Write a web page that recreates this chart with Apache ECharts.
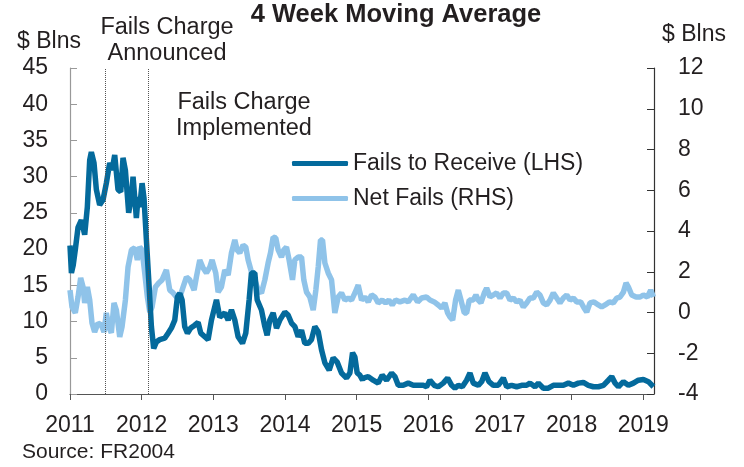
<!DOCTYPE html>
<html>
<head>
<meta charset="utf-8">
<script src="https://cdn.jsdelivr.net/npm/echarts@6/dist/echarts.min.js"></script>
<style>
  html, body { margin: 0; padding: 0; background: #fff; }
  #chart { width: 744px; height: 467px; }
</style>
</head>
<body>
<div id="chart"></div>
<script>
// year ticks on the x axis
const years = [2011, 2012, 2013, 2014, 2015, 2016, 2017, 2018, 2019]

// Fails to Receive (LHS, $ Blns)
const failsDates = [2011.0, 2011.02, 2011.045, 2011.075, 2011.112, 2011.158, 2011.205, 2011.242, 2011.275, 2011.298, 2011.335, 2011.368,
  2011.414, 2011.461, 2011.507, 2011.554, 2011.587, 2011.624, 2011.67, 2011.708, 2011.74, 2011.773,
  2011.819, 2011.857, 2011.88, 2011.926, 2011.95, 2011.973, 2012.006, 2012.033, 2012.066, 2012.099,
  2012.136, 2012.168, 2012.206, 2012.252, 2012.322, 2012.369, 2012.415, 2012.462, 2012.499, 2012.532,
  2012.564, 2012.601, 2012.639, 2012.685, 2012.741, 2012.788, 2012.825, 2012.881, 2012.927, 2012.974,
  2013.044, 2013.09, 2013.16, 2013.207, 2013.253, 2013.3, 2013.346, 2013.407, 2013.453, 2013.5,
  2013.532, 2013.579, 2013.612, 2013.672, 2013.719, 2013.751, 2013.788, 2013.835, 2013.882, 2013.928,
  2013.998, 2014.044, 2014.091, 2014.138, 2014.184, 2014.231, 2014.277, 2014.324, 2014.37, 2014.417,
  2014.464, 2014.51, 2014.557, 2014.617, 2014.673, 2014.729, 2014.789, 2014.859, 2014.906, 2014.943,
  2014.976, 2015.008, 2015.045, 2015.083, 2015.092, 2015.162, 2015.231, 2015.301, 2015.357, 2015.418,
  2015.488, 2015.534, 2015.581, 2015.65, 2015.72, 2015.79, 2015.86, 2015.93, 2015.976, 2016.023,
  2016.083, 2016.139, 2016.209, 2016.27, 2016.326, 2016.372, 2016.419, 2016.475, 2016.535, 2016.582,
  2016.628, 2016.698, 2016.745, 2016.791, 2016.847, 2016.908, 2016.977, 2017.047, 2017.094, 2017.163,
  2017.233, 2017.303, 2017.373, 2017.419, 2017.489, 2017.536, 2017.606, 2017.675, 2017.745, 2017.815,
  2017.885, 2017.955, 2018.025, 2018.094, 2018.164, 2018.234, 2018.304, 2018.374, 2018.444, 2018.513,
  2018.56, 2018.607, 2018.653, 2018.723, 2018.793, 2018.863, 2018.932, 2019.002, 2019.072, 2019.142]
const failsVals = [20.5, 16.7, 17.8, 20, 23, 24, 22, 25.8, 32.3, 33.4, 31.9, 28.2,
  26.1, 26.8, 29.1, 31.9, 30.9, 33, 28.2, 27.9, 32.6, 30.9,
  25, 27.2, 30, 24.3, 27.2, 25.8, 29.1, 27, 21.3, 15.7,
  9.3, 6.3, 7.2, 7.5, 7.7, 8.4, 9.1, 10.2, 13.4, 13.9,
  13, 9.3, 8.4, 9.1, 9.5, 9.9, 8.4, 7.9, 7.5, 10.2,
  13, 10.6, 11.2, 10.2, 11.6, 10.2, 7.9, 7, 8.4, 13,
  16.7, 16.7, 13, 11.6, 9.3, 8.1, 10.2, 11.2, 9.1, 10.2,
  11.3, 10.9, 9.8, 9.3, 7.9, 8.8, 7, 7, 7.5, 9.3,
  8.6, 6.1, 4.3, 3.3, 5, 4.4, 2.9, 2.2, 2.9, 5.7,
  5.1, 2.9, 2.6, 1.9, 2.2, 2.4, 1.9, 1.5, 2.6, 1.9,
  2.9, 2.4, 1.2, 1.2, 1.5, 1.2, 1.2, 1.2, 1, 1.9,
  1.2, 1, 1.5, 2.2, 1.2, 0.8, 1.2, 1, 1.9, 2.9,
  1.5, 1.2, 1.7, 2.9, 1.7, 1.2, 1.2, 2.2, 1, 1.2,
  1, 1.2, 1.2, 1.5, 1, 1.5, 0.8, 0.8, 1.2, 1.2,
  1.2, 1.5, 1.2, 1.5, 1.6, 1.2, 1, 1, 1.2, 1.9,
  2.4, 1.5, 1, 1.7, 1.2, 1.5, 1.9, 2, 1.7, 1]

// Net Fails (RHS, $ Blns)
const netDates = [2011.0, 2011.028, 2011.074, 2011.112, 2011.149, 2011.182, 2011.205, 2011.242, 2011.275, 2011.307,
  2011.344, 2011.391, 2011.438, 2011.475, 2011.507, 2011.54, 2011.577, 2011.614, 2011.647, 2011.694,
  2011.726, 2011.773, 2011.81, 2011.857, 2011.903, 2011.94, 2011.973, 2012.006, 2012.043, 2012.08,
  2012.113, 2012.145, 2012.192, 2012.238, 2012.285, 2012.345, 2012.392, 2012.439, 2012.485, 2012.532,
  2012.578, 2012.625, 2012.671, 2012.732, 2012.764, 2012.811, 2012.858, 2012.904, 2012.951, 2012.983,
  2013.034, 2013.067, 2013.113, 2013.16, 2013.207, 2013.253, 2013.3, 2013.332, 2013.369, 2013.416,
  2013.453, 2013.486, 2013.532, 2013.579, 2013.626, 2013.672, 2013.719, 2013.765, 2013.798, 2013.835,
  2013.872, 2013.905, 2013.951, 2013.984, 2014.021, 2014.058, 2014.105, 2014.138, 2014.184, 2014.231,
  2014.263, 2014.301, 2014.347, 2014.394, 2014.431, 2014.464, 2014.496, 2014.524, 2014.557, 2014.603,
  2014.65, 2014.696, 2014.743, 2014.789, 2014.836, 2014.883, 2014.929, 2014.976, 2015.022, 2015.069,
  2015.115, 2015.162, 2015.208, 2015.255, 2015.301, 2015.357, 2015.404, 2015.45, 2015.497, 2015.543,
  2015.604, 2015.674, 2015.72, 2015.79, 2015.851, 2015.907, 2015.976, 2016.023, 2016.083, 2016.139,
  2016.186, 2016.232, 2016.27, 2016.302, 2016.34, 2016.381, 2016.419, 2016.456, 2016.502, 2016.535,
  2016.572, 2016.628, 2016.665, 2016.698, 2016.735, 2016.782, 2016.814, 2016.861, 2016.908, 2016.954,
  2017.001, 2017.047, 2017.094, 2017.14, 2017.187, 2017.233, 2017.28, 2017.326, 2017.373, 2017.419,
  2017.466, 2017.513, 2017.559, 2017.606, 2017.652, 2017.699, 2017.745, 2017.792, 2017.838, 2017.885,
  2017.932, 2017.978, 2018.025, 2018.071, 2018.127, 2018.174, 2018.211, 2018.257, 2018.313, 2018.374,
  2018.42, 2018.467, 2018.527, 2018.583, 2018.63, 2018.676, 2018.723, 2018.76, 2018.793, 2018.839,
  2018.9, 2018.956, 2019.002, 2019.058, 2019.104, 2019.142]
const netVals = [1.1, 0.27, -0.02, 0.76, 1.7, 1.25, 0.47, 1.25, 0.61, -0.52,
  -0.96, -0.52, -0.61, -0.96, -0.02, -0.71, -1.0, 0.47, 0.12, -1.2,
  -0.71, 0.61, 2.23, 3.07, 3.17, 2.58, 3.21, 3.07, 1.94, 0.76,
  0.02, 0.27, 1.25, 1.45, 1.6, 2.09, 1.1, 0.96, 0.76, 0.76,
  1.25, 1.74, 1.6, 1.1, 1.74, 2.58, 2.18, 1.94, 2.23, 2.58,
  1.94, 1.0, 1.25, 2.09, 1.84, 2.92, 3.56, 3.07, 2.92, 3.31,
  3.21, 2.58, 1.99, 1.6, 1.1, 0.96, 1.6, 2.43, 2.92, 3.7,
  3.66, 3.07, 2.72, 3.07, 3.21, 2.58, 1.6, 2.58, 2.72, 2.72,
  1.6, 1.0, 0.76, 0.12, 1.1, 2.23, 3.56, 3.56, 2.43, 1.94,
  1.6, -0.02, 0.76, 0.96, 0.61, 0.71, 0.61, 0.96, 1.35, 0.61,
  0.76, 0.52, 0.86, 0.76, 0.47, 0.61, 0.47, 0.61, 0.37, 0.61,
  0.52, 0.61, 0.52, 0.86, 0.52, 0.71, 0.76, 0.61, 0.52, 0.37,
  0.22, 0.47, -0.02, -0.22, -0.37, 0.61, 1.1, 0.61, -0.02, -0.02,
  0.61, 0.61, 0.86, 0.61, 0.47, 0.96, 1.2, 0.76, 0.86, 0.96,
  0.71, 0.96, 0.96, 0.61, 0.71, 0.52, 0.61, 0.27, 0.47, 0.71,
  0.71, 1.0, 0.86, 0.47, 0.37, 0.61, 0.96, 0.71, 0.47, 0.71,
  0.86, 0.61, 0.71, 0.52, 0.52, 0.22, 0.02, 0.47, 0.52, 0.37,
  0.27, 0.37, 0.52, 0.47, 0.71, 0.76, 1.0, 1.45, 1.25, 0.86,
  0.76, 0.76, 0.86, 0.76, 1.1, 0.76]

// announcement / implementation dates (vertical dotted lines)
const eventDates = [2011.49, 2012.09]

const font = 'Liberation Sans, Arial, sans-serif'
const ink = '#231f20'
const darkBlue = '#046a9c'
const lightBlue = '#8fc3e9'

const pairs = (xs, ys) => xs.map((x, i) => [x, ys[i]])

const chart = echarts.init(document.getElementById('chart'))

const option = {
  animation: false,
  textStyle: { fontFamily: font },
  grid: { left: 70, right: 90, top: 68, bottom: 73 },
  legend: {
    data: ['Fails to Receive (LHS)', 'Net Fails (RHS)'],
    orient: 'vertical',
    left: 292,
    top: 152,
    padding: 0,
    icon: 'roundRect',
    itemWidth: 56,
    itemHeight: 5,
    itemGap: 12,
    textStyle: { fontSize: 23, color: ink, fontFamily: font }
  },
  xAxis: {
    type: 'value',
    min: 2011,
    max: 2019.15,
    interval: 1,
    splitLine: { show: false },
    axisLine: { lineStyle: { color: '#555', width: 1.2 } },
    axisTick: { inside: false, length: 6, customValues: years, lineStyle: { color: '#555' } },
    axisLabel: {
      customValues: years,
      fontSize: 23, color: ink, margin: 20,
      formatter: v => String(v)
    }
  },
  yAxis: [
    {
      type: 'value',
      min: 0, max: 45, interval: 5,
      splitLine: { show: false },
      axisLine: { show: true, lineStyle: { color: '#999', width: 1.2 } },
      axisTick: { show: true, inside: true, length: 7, lineStyle: { color: '#999' } },
      axisLabel: { fontSize: 23, color: ink, margin: 22 }
    },
    {
      type: 'value',
      min: -4, max: 12, interval: 2,
      position: 'right',
      splitLine: { show: false },
      axisLine: { show: true, lineStyle: { color: '#333', width: 1.2 } },
      axisTick: { show: true, inside: true, length: 7, lineStyle: { color: '#333' } },
      axisLabel: { fontSize: 23, color: ink, margin: 24 }
    }
  ],
  graphic: [
    { type: 'text', x: 396, y: 2, style: { text: '4 Week Moving Average', font: 'bold 25.5px ' + font, fill: ink, align: 'center', verticalAlign: 'top' } },
    { type: 'text', x: 17, y: 30, style: { text: '$ Blns', font: '23px ' + font, fill: ink } },
    { type: 'text', x: 662, y: 23, style: { text: '$ Blns', font: '23px ' + font, fill: ink } },
    { type: 'text', x: 167, y: 15, style: { text: 'Fails Charge\nAnnounced', font: '23.5px ' + font, fill: ink, align: 'center', lineHeight: 26 } },
    { type: 'text', x: 244, y: 90, style: { text: 'Fails Charge\nImplemented', font: '23.5px ' + font, fill: ink, align: 'center', lineHeight: 26 } },
    { type: 'text', x: 22, y: 442, style: { text: 'Source: FR2004', font: '21px ' + font, fill: ink } }
  ],
  series: [
    {
      name: 'Net Fails (RHS)',
      type: 'line',
      yAxisIndex: 1,
      symbol: 'none',
      color: lightBlue,
      lineStyle: { width: 5.5, color: lightBlue },
      data: pairs(netDates, netVals)
    },
    {
      name: 'Fails to Receive (LHS)',
      type: 'line',
      yAxisIndex: 0,
      symbol: 'none',
      color: darkBlue,
      lineStyle: { width: 5.5, color: darkBlue },
      data: pairs(failsDates, failsVals),
      markLine: {
        silent: true,
        symbol: 'none',
        label: { show: false },
        lineStyle: { type: 'dotted', color: '#555', width: 1 },
        data: eventDates.map(d => ({ xAxis: d }))
      }
    }
  ]
}

chart.setOption(option)
</script>
</body>
</html>
